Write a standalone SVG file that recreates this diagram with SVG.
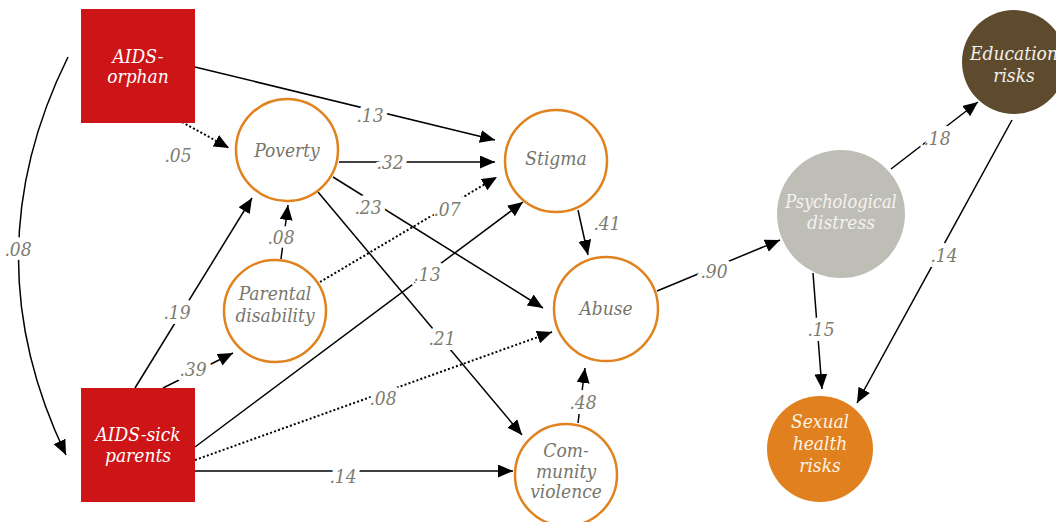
<svg xmlns="http://www.w3.org/2000/svg" width="1056" height="522" viewBox="0 0 1056 522">
<defs>
<marker id="ah" markerUnits="userSpaceOnUse" markerWidth="16" markerHeight="14" refX="15" refY="6.5" orient="auto">
<path d="M0,0 L15,6.5 L0,13 z" fill="#000"/>
</marker>
<style>
.edge{fill:none;stroke:#000;stroke-width:1.5;marker-end:url(#ah)}
.dot{stroke-dasharray:2,2.2;stroke-width:2}
text{font-family:'DejaVu Serif Condensed','DejaVu Serif',serif;font-stretch:condensed;font-style:italic;font-size:19px;text-anchor:middle}
.lbl{fill:#7d7b70;stroke:#fff;stroke-width:10;paint-order:stroke;stroke-linejoin:round}
.gray{fill:#77756b}
.white{fill:#fff}
.oc{fill:#fff;stroke:#e0821e;stroke-width:2.5}
.box{fill:#cd1417}
</style>
</defs>
<g id="connectors">
<path class="edge" d="M195,67 L495,140"/>
<path class="edge dot" d="M182,122 L229,148"/>
<path class="edge" d="M68,57 Q-30,255 66,455"/>
<path class="edge" d="M339,162 L495,162"/>
<path class="edge" d="M333,177 L543,308"/>
<path class="edge" d="M318,192 L522,435"/>
<path class="edge" d="M281,259 L288,205"/>
<path class="edge dot" d="M320,282 L497,177"/>
<path class="edge" d="M135,388 L252,198"/>
<path class="edge" d="M163,388 L233,353"/>
<path class="edge" d="M195,447 L523,202"/>
<path class="edge dot" d="M195,460 L552,332"/>
<path class="edge" d="M195,471 L513,471"/>
<path class="edge" d="M578,210 L588,255"/>
<path class="edge" d="M578,423 L585,368"/>
<path class="edge" d="M657,291 L780,240"/>
<path class="edge" d="M891,169 L978,102"/>
<path class="edge" d="M813,273 L822,389"/>
<path class="edge" d="M1012,120 L857,403"/>
<text class="lbl" x="370" y="122">.13</text>
<text class="lbl" x="178" y="162">.05</text>
<text class="lbl" x="18" y="256">.08</text>
<text class="lbl" x="390" y="169">.32</text>
<text class="lbl" x="368" y="214">.23</text>
<text class="lbl" x="442" y="345">.21</text>
<text class="lbl" x="281" y="244">.08</text>
<text class="lbl" x="447" y="216">.07</text>
<text class="lbl" x="177" y="319">.19</text>
<text class="lbl" x="193" y="376">.39</text>
<text class="lbl" x="427" y="281">.13</text>
<text class="lbl" x="383" y="405">.08</text>
<text class="lbl" x="343" y="483">.14</text>
<text class="lbl" x="607" y="230">.41</text>
<text class="lbl" x="583" y="409">.48</text>
<text class="lbl" x="714" y="278">.90</text>
<text class="lbl" x="937" y="145">.18</text>
<text class="lbl" x="821" y="336">.15</text>
<text class="lbl" x="944" y="262">.14</text>
</g>
<g id="aids-orphan">
<rect class="box" x="81" y="9" width="114" height="114"/>
<text class="white" x="138" y="63">AIDS-</text>
<text class="white" x="138" y="83">orphan</text>
</g>
<g id="aids-sick-parents">
<rect class="box" x="81" y="388" width="114" height="114"/>
<text class="white" x="138" y="441">AIDS-sick</text>
<text class="white" x="138" y="462">parents</text>
</g>
<g id="poverty">
<circle class="oc" cx="287" cy="150" r="51"/>
<text class="gray" x="287" y="157">Poverty</text>
</g>
<g id="parental-disability">
<circle class="oc" cx="275" cy="311" r="51"/>
<text class="gray" x="275" y="300">Parental</text>
<text class="gray" x="275" y="322">disability</text>
</g>
<g id="stigma">
<circle class="oc" cx="556" cy="161" r="51"/>
<text class="gray" x="556" y="165">Stigma</text>
</g>
<g id="abuse">
<circle class="oc" cx="606" cy="309" r="52"/>
<text class="gray" x="606" y="315">Abuse</text>
</g>
<g id="community-violence">
<circle class="oc" cx="566" cy="475" r="51"/>
<text class="gray" x="566" y="457">Com-</text>
<text class="gray" x="566" y="478">munity</text>
<text class="gray" x="566" y="498">violence</text>
</g>
<g id="psychological-distress">
<circle cx="841" cy="214" r="64" fill="#bfbeb6"/>
<text fill="#f4f3ee" x="841" y="208" style="font-size:18px">Psychological</text>
<text fill="#f4f3ee" x="841" y="229">distress</text>
</g>
<g id="education-risks">
<circle cx="1014" cy="62" r="52" fill="#5e4b2e"/>
<text fill="#f4f1ea" x="1014" y="60">Education</text>
<text fill="#f4f1ea" x="1014" y="82">risks</text>
</g>
<g id="sexual-health-risks">
<circle cx="820" cy="449" r="53" fill="#e0801e"/>
<text fill="#fdf3e6" x="820" y="428">Sexual</text>
<text fill="#fdf3e6" x="820" y="450">health</text>
<text fill="#fdf3e6" x="820" y="472">risks</text>
</g>
</svg>
